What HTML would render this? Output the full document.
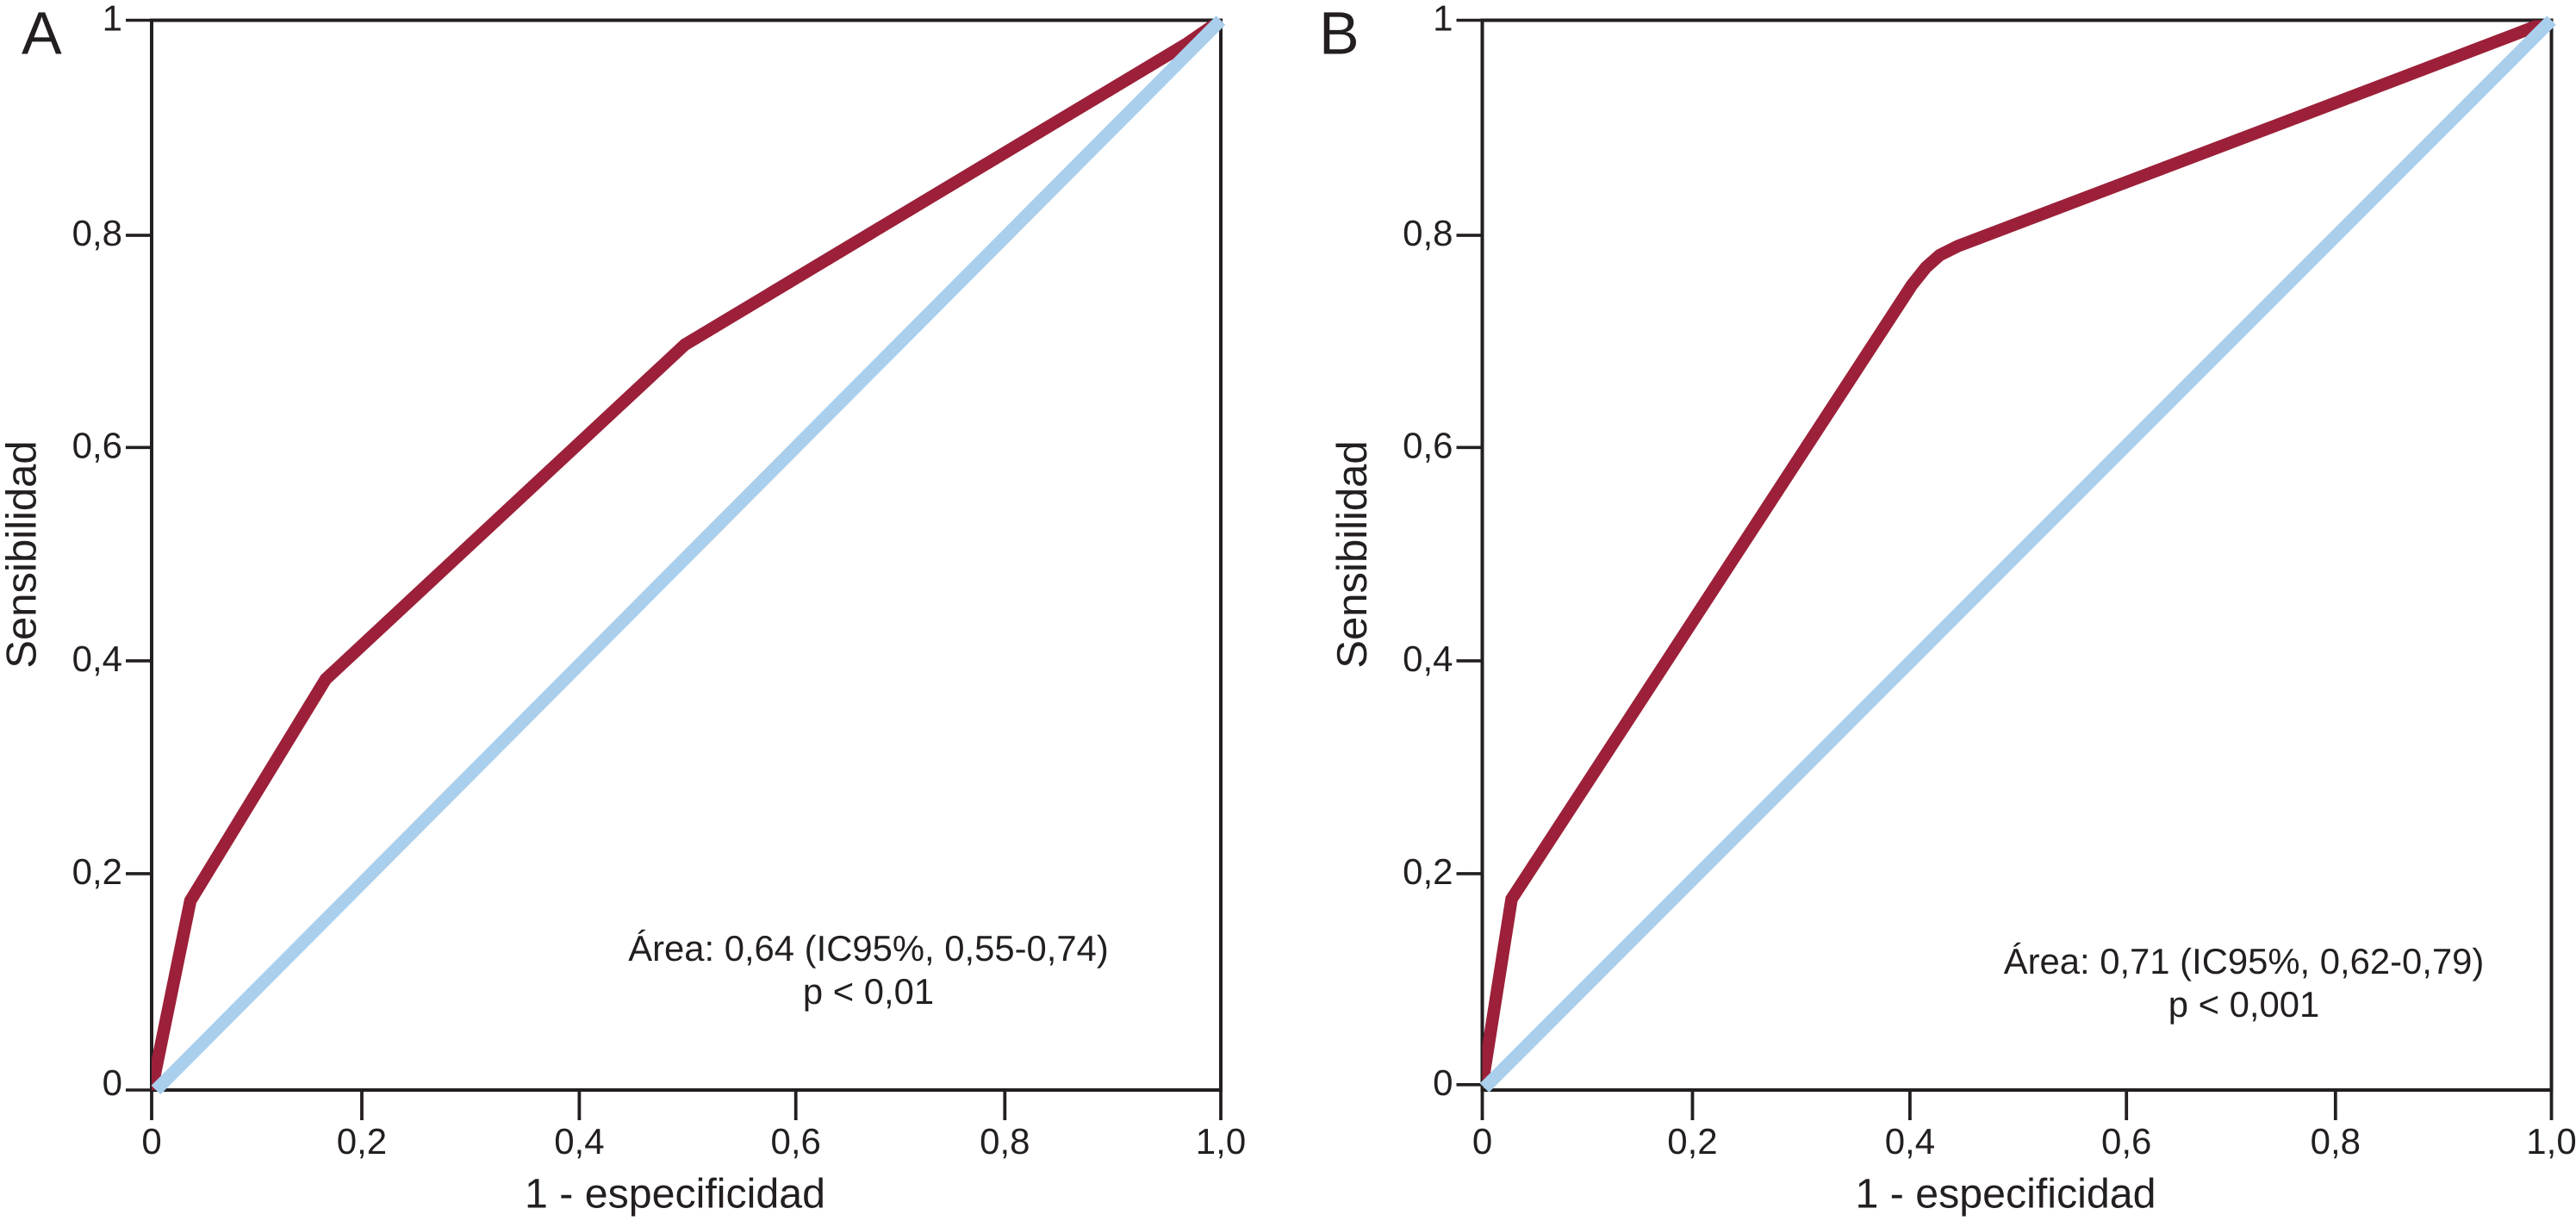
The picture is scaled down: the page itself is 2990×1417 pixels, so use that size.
<!DOCTYPE html>
<html lang="es">
<head>
<meta charset="utf-8">
<title>Curvas ROC</title>
<style>
html,body{margin:0;padding:0;background:#fff;}
svg{display:block;}
text{font-family:"Liberation Sans",Arial,sans-serif;fill:#231f20;text-rendering:geometricPrecision;}
</style>
</head>
<body>
<svg id="chart" xmlns="http://www.w3.org/2000/svg" width="2990" height="1417" viewBox="0 0 2990 1417"></svg>
<script>
// Axis ticks (the printed tick marks are slightly irregular)
const xTickValues = [0, 0.1966, 0.4, 0.6025, 0.798, 1];
const xTickLabels = ['0', '0,2', '0,4', '0,6', '0,8', '1,0'];
const yTickValuesA = [0, 0.2022, 0.4012, 0.6006, 0.799, 1];
const yTickValuesB = [0.005, 0.2022, 0.4012, 0.6006, 0.799, 1];
const yLabelValues = [0.005, 0.2022, 0.4012, 0.6006, 0.799, 1];
const yTickLabels = ['0', '0,2', '0,4', '0,6', '0,8', '1'];

// Panel A series
const rocAFpr = [0, 0.0363, 0.1628, 0.4988, 0.968, 1];
const rocASens = [0, 0.177, 0.384, 0.6967, 0.978, 1];
const refAFpr = [0.004, 1];
const refASens = [0, 1];

// Panel B series
const rocBFpr = [0, 0.0274, 0.4017, 0.415, 0.428, 0.445, 0.7813, 0.969, 1];
const rocBSens = [0.005, 0.1785, 0.7523, 0.769, 0.7805, 0.789, 0.9165, 0.988, 1];
const refBFpr = [0.002, 1];
const refBSens = [0.002, 1];

const SVGNS = 'http://www.w3.org/2000/svg';
const svg = document.getElementById('chart');
const INK = '#231f20';
const RED = '#9c2039';
const BLUE = '#aacfec';

function make(parent, tag, attrs, text) {
  const el = document.createElementNS(SVGNS, tag);
  for (const k in attrs) el.setAttribute(k, attrs[k]);
  if (text !== undefined) el.textContent = text;
  parent.appendChild(el);
  return el;
}

function pts(xs, ys, xScale, yScale) {
  return xs.map(function (v, i) {
    return xScale(v).toFixed(1) + ',' + yScale(ys[i]).toFixed(1);
  }).join(' ');
}

function drawPanel(p) {
  const xScale = function (v) { return p.left + v * (p.right - p.left); };
  const yScale = function (v) { return p.bottom + v * (p.top - p.bottom); };

  const g = make(svg, 'g', {});
  
  

  const clip = make(svg, 'clipPath', { id: 'plot-clip-' + p.id });
  make(clip, 'rect', { x: p.left, y: p.top, width: p.right - p.left, height: p.bottom - p.top });

  const letter = make(g, 'text', { x: p.letterX, y: 62.7, 'font-size': 70 }, p.letter);
  
  

  const frame = make(g, 'rect', {
    x: p.left, y: p.top, width: p.right - p.left, height: p.bottom - p.top,
    fill: 'none', stroke: INK, 'stroke-width': 4
  });
  
  

  xTickValues.forEach(function (v, i) {
    const x = xScale(v);
    const tick = make(g, 'line', { x1: x, x2: x, y1: p.bottom, y2: 1300, stroke: INK, 'stroke-width': 3.8 });
    
    
    const label = make(g, 'text', { x: x, y: 1339, 'font-size': 42, 'text-anchor': 'middle' }, xTickLabels[i]);
    
    
  });

  p.yTicks.forEach(function (v, i) {
    const y = yScale(v);
    const tick = make(g, 'line', { x1: p.left - 30, x2: p.left, y1: y, y2: y, stroke: INK, 'stroke-width': 3.6 });
    
    
    const label = make(g, 'text', {
      x: p.left - 34, y: yScale(yLabelValues[i]) + 12, 'font-size': 42, 'text-anchor': 'end'
    }, yTickLabels[i]);
    
    
  });

  const xTitle = make(g, 'text', {
    x: p.left + 607.5, y: 1401.7, 'font-size': 48.3, 'text-anchor': 'middle'
  }, '1 - especificidad');
  
  

  const yTitle = make(g, 'text', {
    transform: 'translate(' + (p.left - 134.5) + ',643.5) rotate(-90)', 'font-size': 49, 'text-anchor': 'middle'
  }, 'Sensibilidad');
  
  

  const roc = make(g, 'polyline', {
    points: pts(p.rocX, p.rocY, xScale, yScale),
    fill: 'none', stroke: RED, 'stroke-width': 14.5, 'stroke-linejoin': 'miter',
    'clip-path': 'url(#plot-clip-' + p.id + ')'
  });
  
  

  const ref = make(g, 'polyline', {
    points: pts(p.refX, p.refY, xScale, yScale),
    fill: 'none', stroke: BLUE, 'stroke-width': 15
  });
  
  

  const area = make(g, 'text', { x: p.noteX, y: p.noteY, 'font-size': 41.8, 'text-anchor': 'middle' }, p.note1);
  
  

  const pval = make(g, 'text', { x: p.noteX, y: p.noteY + 50, 'font-size': 41.8, 'text-anchor': 'middle' }, p.note2);
  
  
}

drawPanel({
  id: 'a', letter: 'A', letterX: 25,
  left: 176, right: 1417, top: 23.5, bottom: 1265,
  yTicks: yTickValuesA,
  rocX: rocAFpr, rocY: rocASens, refX: refAFpr, refY: refASens,
  noteX: 1008, noteY: 1115,
  note1: 'Área: 0,64 (IC95%, 0,55-0,74)', note2: 'p < 0,01'
});

drawPanel({
  id: 'b', letter: 'B', letterX: 1531,
  left: 1720.5, right: 2961.5, top: 23.5, bottom: 1265,
  yTicks: yTickValuesB,
  rocX: rocBFpr, rocY: rocBSens, refX: refBFpr, refY: refBSens,
  noteX: 2604.5, noteY: 1130,
  note1: 'Área: 0,71 (IC95%, 0,62-0,79)', note2: 'p < 0,001'
});
</script>
</body>
</html>
